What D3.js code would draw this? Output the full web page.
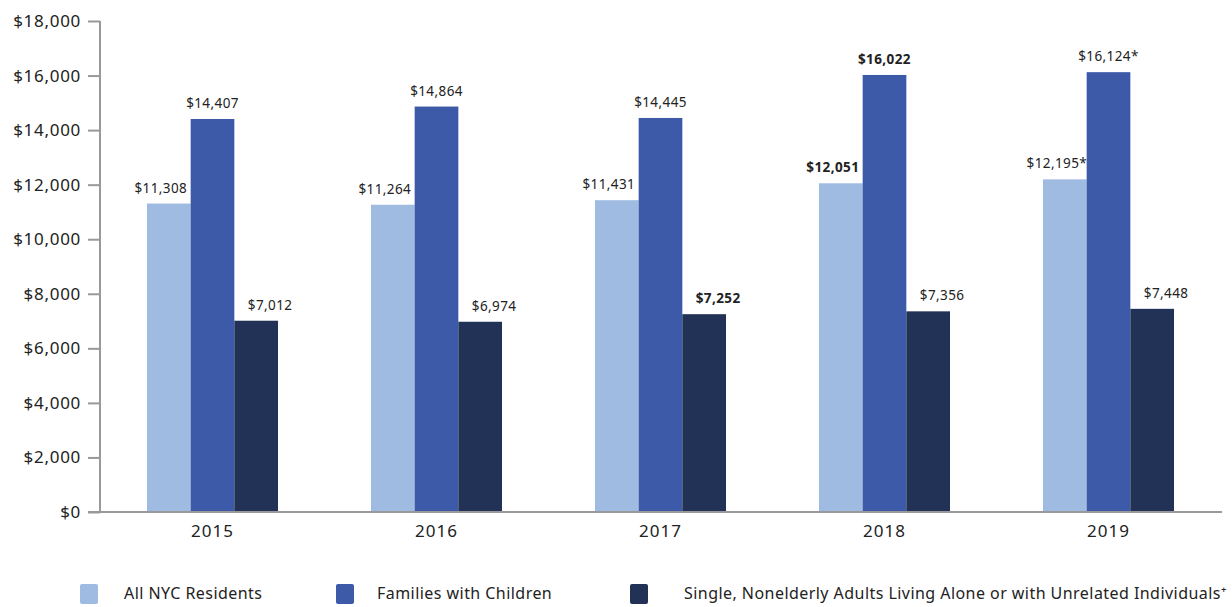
<!DOCTYPE html>
<html>
<head>
<meta charset="utf-8">
<script src="https://cdn.jsdelivr.net/npm/d3@7"></script>
<style>
  html, body { margin: 0; padding: 0; background: #fff; }
  svg { display: block; }
  text { font-family: "Noto Sans", "Open Sans", sans-serif; fill: #222; }
</style>
</head>
<body>
<svg id="chart" width="1232" height="607"></svg>
<script>
const years = ["2015", "2016", "2017", "2018", "2019"];
const seriesNames = ["All NYC Residents", "Families with Children", "Single, Nonelderly Adults Living Alone or with Unrelated Individuals\u207A"];
const allResidents = [11308, 11264, 11431, 12051, 12195];
const families = [14407, 14864, 14445, 16022, 16124];
const singles = [7012, 6974, 7252, 7356, 7448];
const allLabels = ["$11,308", "$11,264", "$11,431", "$12,051", "$12,195*"];
const familyLabels = ["$14,407", "$14,864", "$14,445", "$16,022", "$16,124*"];
const singleLabels = ["$7,012", "$6,974", "$7,252", "$7,356", "$7,448"];
const allBold = [false, false, false, true, false];
const familyBold = [false, false, false, true, false];
const singleBold = [false, false, true, false, false];
const yTicks = [0, 2000, 4000, 6000, 8000, 10000, 12000, 14000, 16000, 18000];
const colors = ["#A0BBE2", "#3D5AA8", "#213256"];

const svg = d3.select("#chart");
const x0 = d3.scaleBand().domain(years).range([100.5, 1220.5]).paddingInner(0.415).paddingOuter(0.2075);
const keys = [0, 1, 2];
const x1 = d3.scaleBand().domain(keys).range([0, x0.bandwidth()]);
const y = d3.scaleLinear().domain([0, 18000]).range([512, 21]);

const series = [
  { vals: allResidents, labels: allLabels, bold: allBold, dx: -8 },
  { vals: families, labels: familyLabels, bold: familyBold, dx: 0 },
  { vals: singles, labels: singleLabels, bold: singleBold, dx: 14 }
];

// y axis
const yAxis = d3.axisLeft(y).tickValues(yTicks).tickSize(12).tickFormat(d => "$" + d3.format(",")(d));
const yg = svg.append("g").attr("transform", "translate(100,0)").call(yAxis);
yg.selectAll("path, line").attr("stroke", "#999").attr("stroke-width", 2);
yg.select(".domain").attr("d", "M0,21V512");
yg.selectAll("text").attr("font-size", 17).attr("fill", "#222").attr("x", -19)
  .attr("letter-spacing", 0.7).style("font-family", '"Noto Sans", sans-serif');

// bars
years.forEach((yr, i) => {
  series.forEach((s, k) => {
    const bx = x0(yr) + x1(k);
    svg.append("rect")
      .attr("x", bx).attr("y", y(s.vals[i]))
      .attr("width", x1.bandwidth()).attr("height", y(0) - y(s.vals[i]))
      .attr("fill", colors[k]);
    svg.append("text")
      .attr("x", bx + x1.bandwidth() / 2 + s.dx)
      .attr("y", y(s.vals[i]) - 11)
      .attr("text-anchor", "middle")
      .attr("font-size", 13.5)
      .attr("letter-spacing", 0.4)
      .attr("font-weight", s.bold[i] ? "bold" : "normal")
      .attr("fill", s.bold[i] ? "#000" : "#222")
      .text(s.labels[i]);
  });
});

// x axis
const xAxis = d3.axisBottom(x0).tickSize(0).tickPadding(13);
const xg = svg.append("g").attr("transform", "translate(0,512)").call(xAxis);
xg.select(".domain").attr("d", "M88,0H1222").attr("stroke", "#999").attr("stroke-width", 2);
xg.selectAll("text").attr("font-size", 17).attr("letter-spacing", 1).attr("fill", "#222")
  .style("font-family", '"Noto Sans", sans-serif');

// legend
const legendX = [80, 336, 630];
const legendTextX = [124, 377, 684];
seriesNames.forEach((name, k) => {
  svg.append("rect").attr("x", legendX[k]).attr("y", 584).attr("width", 18).attr("height", 20).attr("rx", 2).attr("fill", colors[k]);
  svg.append("text").attr("x", legendTextX[k]).attr("y", 599).attr("font-size", 16)
    .attr("letter-spacing", 0.45).attr("fill", "#222").text(name);
});
</script>
</body>
</html>
